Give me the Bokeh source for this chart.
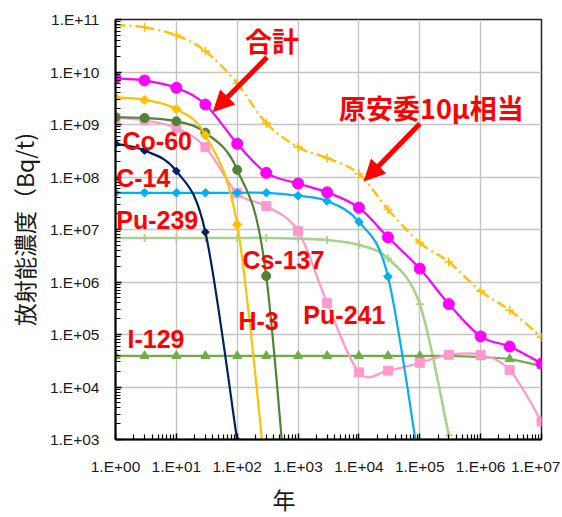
import numpy as np
from bokeh.plotting import figure
from bokeh.models import (Range1d, FixedTicker, CustomJSTickFormatter, Label,
                          Arrow, NormalHead, Title)
from bokeh.embed import file_html
from bokeh.resources import INLINE

# ---------------- data ----------------
years = [1, 3, 10, 30, 100, 300, 1e3, 3e3, 1e4, 3e4, 1e5, 3e5, 1e6, 3e6, 1e7]

total = [7.6e9, 6.9e9, 5.0e9, 2.4e9, 4.3e8, 1.2e8, 7.5e7, 5.1e7, 2.6e7,
         7.1e6, 1.8e6, 3.8e5, 9.2e4, 5.9e4, 2.8e4]                 # 合計
ref_10u = [7.9e10, 7.1e10, 5.0e10, 2.5e10, 6.1e9, 1.06e9, 3.7e8, 2.3e8,
           1.15e8, 2.4e7, 5.6e6, 2.4e6, 6.7e5, 2.9e5, 8.9e4]        # 原安委10μ相当
h3 = [3.3e9, 2.95e9, 1.96e9, 6.2e8, 1.24e7, 1.6e2]
co60 = [4.3e8, 3.2e8, 1.3e8, 8.9e6, 9.5e2]
cs137 = [1.38e9, 1.33e9, 1.15e9, 7.0e8, 1.37e8, 1.3e6, 1.3e-1]
pu241 = [1.34e9, 1.2e9, 8.6e8, 3.7e8, 4.9e7, 2.8e7, 9.3e6, 4.0e5, 1.9e4,
         2.05e4, 2.9e4, 4.1e4, 4.1e4, 2.1e4, 2.2e3]
c14 = [5.0e7, 5.0e7, 5.0e7, 5.0e7, 5.0e7, 5.0e7, 4.4e7, 3.5e7, 1.4e7,
       1.27e6, 2.8e2]
i129 = [3.9e4, 3.9e4, 3.9e4, 3.9e4, 3.9e4, 3.9e4, 3.9e4, 3.9e4, 3.9e4,
        3.9e4, 3.9e4, 3.9e4, 3.7e4, 3.4e4, 2.5e4]
pu239 = [6.9e6, 6.9e6, 6.9e6, 6.9e6, 6.9e6, 6.9e6, 6.7e6, 6.3e6, 5.1e6,
         2.8e6, 3.8e5, 1.2e3]

x_ticks = [1e0, 1e1, 1e2, 1e3, 1e4, 1e5, 1e6, 1e7]
y_ticks = [1e3, 1e4, 1e5, 1e6, 1e7, 1e8, 1e9, 1e10, 1e11]

# ---------------- figure ----------------
p = figure(width=560, height=517, x_axis_type="log", y_axis_type="log",
           x_range=Range1d(1, 1e7), y_range=Range1d(1e3, 1e11),
           output_backend="svg", toolbar_location=None,
           min_border_left=115, min_border_right=19, min_border_top=19,
           min_border_bottom=78)
p.background_fill_color = "white"
p.border_fill_color = "white"
p.outline_line_color = "#202020"
p.outline_line_width = 1.5

fmt = CustomJSTickFormatter(code="""
const e = Math.round(Math.log10(tick));
return "1.E" + (e < 0 ? "-" : "+") + String(Math.abs(e)).padStart(2, "0");
""")

def minors(ticks):
    out = []
    for t in ticks[:-1]:
        out += [k * t for k in range(2, 10)]
    return out

p.xaxis.ticker = FixedTicker(ticks=x_ticks, minor_ticks=minors(x_ticks))
p.yaxis.ticker = FixedTicker(ticks=y_ticks, minor_ticks=minors(y_ticks))
for ax in (p.xaxis, p.yaxis):
    ax.formatter = fmt
    ax.axis_line_color = "black"
    ax.axis_line_width = 2
    ax.major_tick_in = 6
    ax.major_tick_out = 0
    ax.minor_tick_in = 5
    ax.minor_tick_out = 0
    ax.major_tick_line_color = "black"
    ax.minor_tick_line_color = "black"
    ax.major_tick_line_width = 1.5
    ax.minor_tick_line_width = 1.2
    ax.major_label_text_font = "Liberation Sans"
    ax.major_label_text_font_size = "15.5px"
    ax.major_label_text_color = "#1a1a1a"
p.xaxis.major_label_standoff = 18
p.yaxis.major_label_standoff = 16
p.yaxis.axis_label = "放射能濃度（Bq/t)"
p.yaxis.axis_label_text_font = "Noto Sans CJK JP"
p.yaxis.axis_label_text_font_style = "normal"
p.yaxis.axis_label_text_font_size = "23px"
p.yaxis.axis_label_text_color = "#1a1a1a"
p.yaxis.axis_label_standoff = 6

p.grid.grid_line_color = "#c4c4c4"
p.grid.grid_line_width = 1.4

# x-axis title, placed left of centre as in the original
p.add_layout(Title(text="年", align="left", offset=157, standoff=4,
                   vertical_align="bottom",
                   text_font="Noto Sans CJK JP", text_font_style="normal",
                   text_font_size="23px", text_color="#1a1a1a"), "below")


def smooth(xs, ys):
    """Bezier segments (Catmull-Rom style, like a spreadsheet's smoothed line)
    computed in log space so they look smooth on the log-log axes."""
    lx = np.log10(np.asarray(xs, float))
    ly = np.log10(np.asarray(ys, float))
    n = len(lx)
    d = dict(x0=[], y0=[], x1=[], y1=[], cx0=[], cy0=[], cx1=[], cy1=[])
    for i in range(n - 1):
        a = max(i - 1, 0)
        b = min(i + 2, n - 1)
        c0x = lx[i] + (lx[i + 1] - lx[a]) / 6
        c0y = ly[i] + (ly[i + 1] - ly[a]) / 6
        c1x = lx[i + 1] - (lx[b] - lx[i]) / 6
        c1y = ly[i + 1] - (ly[b] - ly[i]) / 6
        d["x0"].append(10 ** lx[i]); d["y0"].append(10 ** ly[i])
        d["x1"].append(10 ** lx[i + 1]); d["y1"].append(10 ** ly[i + 1])
        d["cx0"].append(10 ** c0x); d["cy0"].append(10 ** c0y)
        d["cx1"].append(10 ** c1x); d["cy1"].append(10 ** c1y)
    return d


def series(ys, color, marker, size, lw=2.2, dash="solid", angle=0.0,
           mlw=1.0, fill=True):
    xs = years[:len(ys)]
    p.bezier(**smooth(xs, ys), line_color=color, line_width=lw,
             line_dash=dash)
    p.scatter(xs, ys, marker=marker, size=size, angle=angle,
              fill_color=color if fill else None, line_color=color,
              line_width=mlw)


series(ref_10u, "#FFC000", "cross", 9, lw=2.4, dash="10 4 2 4", mlw=1.6)
series(pu239, "#A9D18E", "cross", 8, lw=2.6, mlw=1.8)
series(i129, "#70AD47", "triangle", 9)
series(pu241, "#FF99CC", "square", 9)
series(c14, "#00B0F0", "square", 6, angle=np.pi / 4)
series(cs137, "#538135", "circle", 9)
series(h3, "#FFC000", "square", 6.5, angle=np.pi / 4)
series(co60, "#002060", "square", 5.5, angle=np.pi / 4)
series(total, "#FF00FF", "circle", 11)

# ---------------- annotations ----------------
RED = "#FF0000"
names = [("Co-60", 0.115, 8.695), ("C-14", 0.012, 7.99),
         ("Pu-239", 0.012, 7.19), ("Cs-137", 2.085, 6.41),
         ("H-3", 2.02, 5.25), ("Pu-241", 3.087, 5.38),
         ("I-129", 0.197, 4.905)]
for t, lx, ly in names:
    p.add_layout(Label(x=10 ** lx, y=10 ** ly, text=t, text_color=RED,
                       text_font="Liberation Sans", text_font_style="bold",
                       text_font_size="25px", text_baseline="middle",
                       text_align="left"))

for t, lx, ly in [("合計", 2.57, 10.6), ("原安委10μ相当", 5.19, 9.333)]:
    p.add_layout(Label(x=10 ** lx, y=10 ** ly, text=t, text_color=RED,
                       text_font="Noto Sans CJK JP", text_font_style="bold",
                       text_font_size="27px", text_baseline="middle",
                       text_align="center"))

for (sx, sy, ex, ey) in [(2.49, 10.28, 1.61, 9.25), (5.0, 9.013, 4.09, 7.93)]:
    p.add_layout(Arrow(end=NormalHead(size=20, fill_color=RED, line_color=RED),
                       x_start=10 ** sx, y_start=10 ** sy,
                       x_end=10 ** ex, y_end=10 ** ey,
                       line_color=RED, line_width=5))

open("out.html", "w").write(file_html(p, INLINE))
